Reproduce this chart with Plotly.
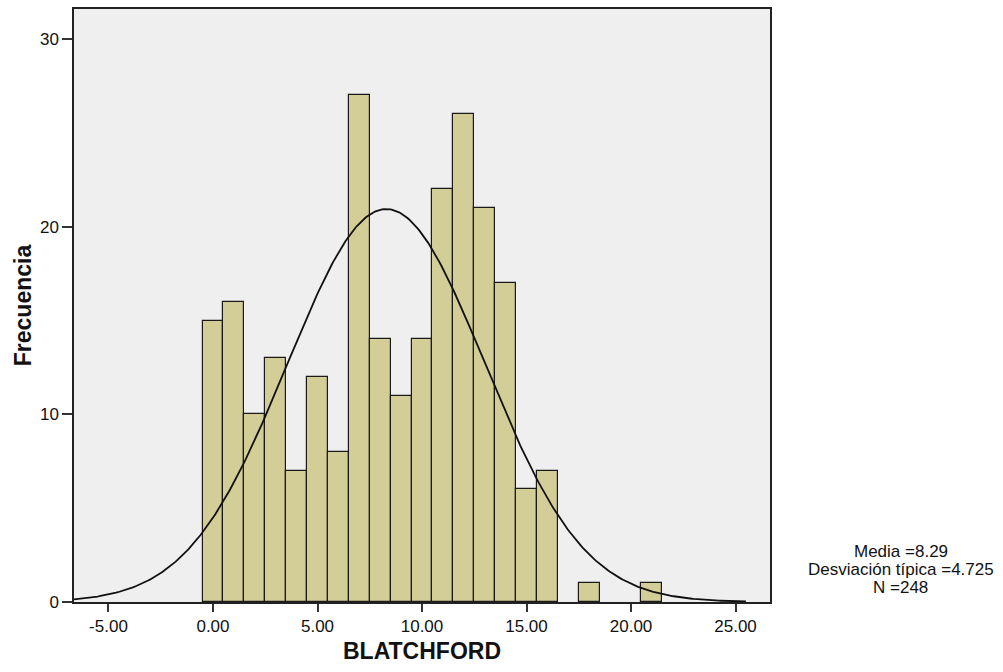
import numpy as np
import plotly.graph_objects as go

# Histogram of BLATCHFORD scores (bins of width 1 centred on integers)
bin_centers = list(range(0, 22))
counts = [15, 16, 10, 13, 7, 12, 8, 27, 14, 11, 14, 22, 26, 21, 17, 6, 7, 0, 1, 0, 0, 1]

mean_val = 8.29
std_val = 4.725
n_total = 248
bin_width = 1.0

x_ticks = [-5, 0, 5, 10, 15, 20, 25]
y_ticks = [0, 10, 20, 30]

stats_lines = [
    f"Media ={mean_val}",
    f"Desviación típica ={std_val}",
    f"N ={n_total}",
]

# Normal curve scaled to the histogram counts
xc = np.linspace(-6.65, 25.5, 400)
yc = n_total * bin_width / (std_val * np.sqrt(2 * np.pi)) * np.exp(-0.5 * ((xc - mean_val) / std_val) ** 2)

font_family = "Liberation Sans, Arial, sans-serif"

fig = go.Figure()
fig.add_trace(go.Bar(
    x=[c for c, v in zip(bin_centers, counts) if v > 0],
    y=[v for v in counts if v > 0],
    width=bin_width,
    marker=dict(color="#D3CE97", line=dict(color="#1a1a1a", width=1.2)),
    showlegend=False,
    hoverinfo="x+y",
))
fig.add_trace(go.Scatter(
    x=xc, y=yc, mode="lines",
    line=dict(color="#111111", width=1.8),
    showlegend=False, hoverinfo="skip",
))

# Summary statistics block to the right of the plot, one line per annotation
stat_annotations = []
for i, line in enumerate(stats_lines):
    stat_annotations.append(dict(
        xref="paper", yref="paper",
        x=1.188, y=0.0857 - i * 0.031, xanchor="center", yanchor="middle",
        text=line, showarrow=False,
        font=dict(size=17, family=font_family, color="#111111"),
    ))

fig.update_layout(
    width=1003, height=672,
    margin=dict(l=74, r=233, t=7, b=70),
    paper_bgcolor="white",
    plot_bgcolor="#EFEFEF",
    bargap=0,
    font=dict(family=font_family, size=17, color="#111111"),
    xaxis=dict(
        range=[-6.65, 26.65],
        tickvals=x_ticks,
        ticktext=[f"{v:.2f}" for v in x_ticks],
        ticks="outside", ticklen=8, tickwidth=1.5, tickcolor="#333333",
        showline=True, linecolor="#222222", linewidth=1.5, mirror=True,
        showgrid=False, zeroline=False,
        tickfont=dict(size=17),
        title=dict(text="<b>BLATCHFORD</b>", font=dict(size=23, family=font_family), standoff=8),
    ),
    yaxis=dict(
        range=[0, 31.6],
        tickvals=y_ticks,
        ticks="outside", ticklen=10, tickwidth=1.5, tickcolor="#333333",
        showline=True, linecolor="#222222", linewidth=1.5, mirror=True,
        showgrid=False, zeroline=False,
        tickfont=dict(size=17),
        title=dict(text="<b>Frecuencia</b>", font=dict(size=23, family=font_family), standoff=2),
    ),
    annotations=stat_annotations,
)

fig.write_html("out.html")
